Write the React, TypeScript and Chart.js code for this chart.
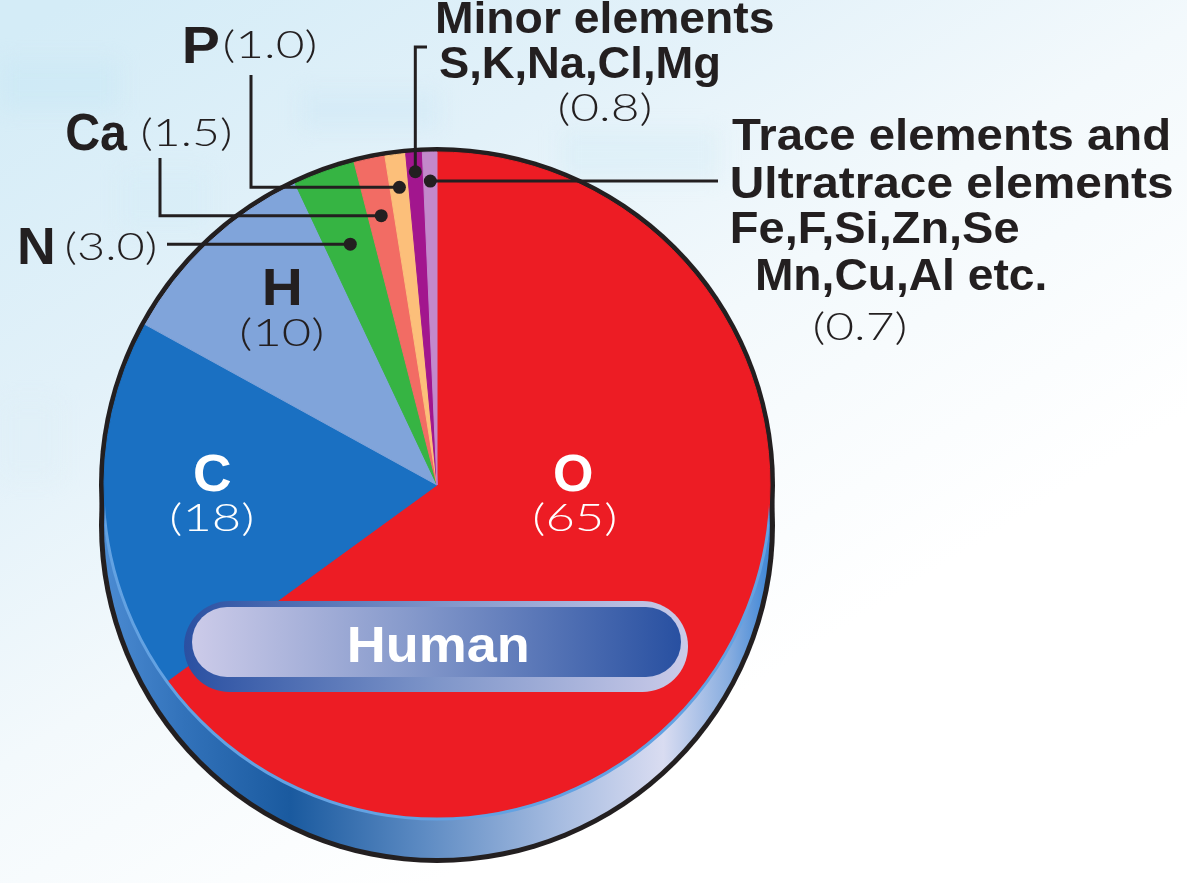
import React, { useEffect, useRef } from "react";
import { Chart, registerables } from "chart.js";

Chart.register(...registerables);

// ---- data ----
const categories = ["O", "C", "H", "N", "Ca", "P", "Minor elements", "Trace elements"];
const values = [65, 18, 10, 3.0, 1.5, 1.0, 0.8, 0.7];
const sliceColors = ["#ed1c24", "#1a70c2", "#80a4da", "#36b443", "#f26c64", "#fcbf7a", "#a2168e", "#c389cb"];
const valueLabels = values.map((v) => (v >= 10 ? `(${v})` : `(${v.toFixed(1)})`));

// ---- layout (text / leader positions) ----
const CX = 437;
const CY = 485;
const R = 333;
const RIM = 40;
const INK = "#231f20";
const BOLD = '"Liberation Sans", Arial, Helvetica, sans-serif';
const LIGHT = 'Lato, "Open Sans", "Noto Sans", sans-serif';

type T = { text: string; x: number; y: number; w: number; size: number; bold: boolean; color: string };

const texts: T[] = [
  { text: categories[5], x: 185, y: 63, w: 33, size: 52, bold: true, color: INK },
  { text: valueLabels[5], x: 225, y: 58, w: 90, size: 38, bold: false, color: INK },
  { text: categories[4], x: 67, y: 150, w: 61, size: 52, bold: true, color: INK },
  { text: valueLabels[4], x: 143, y: 146, w: 87, size: 38, bold: false, color: INK },
  { text: categories[3], x: 20, y: 264, w: 33, size: 52, bold: true, color: INK },
  { text: valueLabels[3], x: 67, y: 260, w: 88, size: 38, bold: false, color: INK },
  { text: "Minor elements", x: 437, y: 33, w: 336, size: 44, bold: true, color: INK },
  { text: "S,K,Na,Cl,Mg", x: 440, y: 78, w: 278, size: 44, bold: true, color: INK },
  { text: valueLabels[6], x: 560, y: 121, w: 90, size: 38, bold: false, color: INK },
  { text: "Trace elements and", x: 732, y: 150, w: 436, size: 44, bold: true, color: INK },
  { text: "Ultratrace elements", x: 732, y: 198, w: 440, size: 44, bold: true, color: INK },
  { text: "Fe,F,Si,Zn,Se", x: 732, y: 243, w: 286, size: 44, bold: true, color: INK },
  { text: "Mn,Cu,Al etc.", x: 757, y: 290, w: 288, size: 44, bold: true, color: INK },
  { text: valueLabels[7], x: 815, y: 340, w: 90, size: 38, bold: false, color: INK },
  { text: categories[2], x: 265, y: 305, w: 35, size: 52, bold: true, color: INK },
  { text: valueLabels[2], x: 242, y: 346, w: 80, size: 38, bold: false, color: INK },
  { text: categories[1], x: 195, y: 491, w: 36, size: 52, bold: true, color: "#ffffff" },
  { text: valueLabels[1], x: 172, y: 531, w: 80, size: 38, bold: false, color: "#ffffff" },
  { text: categories[0], x: 555, y: 491, w: 37, size: 52, bold: true, color: "#ffffff" },
  { text: valueLabels[0], x: 535, y: 531, w: 80, size: 38, bold: false, color: "#ffffff" },
];

// leader: slice index, dot radius, path after the dot
const leaders: { i: number; r: number; path: (d: { x: number; y: number }) => [number, number][] }[] = [
  { i: 3, r: 256, path: (d) => [[167, d.y]] },
  { i: 4, r: 275, path: (d) => [[160, d.y], [160, 158]] },
  { i: 5, r: 300, path: (d) => [[251, d.y], [251, 75]] },
  { i: 6, r: 314, path: (d) => [[d.x, 47], [427, 47]] },
  { i: 7, r: 304, path: (d) => [[718, d.y]] },
];

function drawFit(ctx: CanvasRenderingContext2D, t: T) {
  ctx.save();
  ctx.font = `${t.bold ? "bold" : "300"} ${t.size}px ${t.bold ? BOLD : LIGHT}`;
  ctx.fillStyle = t.color;
  ctx.textBaseline = "alphabetic";
  ctx.textAlign = "left";
  const m = ctx.measureText(t.text);
  const left = m.actualBoundingBoxLeft || 0;
  const inkW = (m.actualBoundingBoxRight || m.width) + left;
  const s = t.w / inkW;
  ctx.translate(t.x, t.y);
  ctx.scale(s, 1);
  ctx.fillText(t.text, left, 0);
  ctx.restore();
}

function roundRect(ctx: CanvasRenderingContext2D, x: number, y: number, w: number, h: number, r: number) {
  ctx.beginPath();
  ctx.moveTo(x + r, y);
  ctx.lineTo(x + w - r, y);
  ctx.arc(x + w - r, y + r, r, -Math.PI / 2, 0);
  ctx.lineTo(x + w, y + h - r);
  ctx.arc(x + w - r, y + h - r, r, 0, Math.PI / 2);
  ctx.lineTo(x + r, y + h);
  ctx.arc(x + r, y + h - r, r, Math.PI / 2, Math.PI);
  ctx.lineTo(x, y + r);
  ctx.arc(x + r, y + r, r, Math.PI, Math.PI * 1.5);
  ctx.closePath();
}

const decor = {
  id: "decor",
  beforeDraw(chart: any) {
    const ctx: CanvasRenderingContext2D = chart.ctx;
    const W = chart.width, H = chart.height;
    ctx.save();
    ctx.fillStyle = "#ffffff";
    ctx.fillRect(0, 0, W, H);
    const g = ctx.createLinearGradient(150, -50, 650, 750);
    g.addColorStop(0, "#d4ecf7");
    g.addColorStop(0.35, "#e2f1f9");
    g.addColorStop(0.65, "#f3f9fc");
    g.addColorStop(1, "#ffffff");
    ctx.fillStyle = g;
    ctx.fillRect(0, 0, W, H);
    // faint blurred blocky texture
    ctx.filter = "blur(10px)";
    const blocks: [number, number, number, number, string][] = [
      [0, 60, 120, 50, "rgba(196,228,243,0.35)"],
      [300, 90, 140, 40, "rgba(200,230,244,0.3)"],
      [120, 170, 90, 60, "rgba(210,234,246,0.35)"],
      [560, 130, 160, 50, "rgba(200,230,244,0.25)"],
      [0, 400, 60, 80, "rgba(220,238,247,0.35)"],
    ];
    for (const [x, y, w, h, c] of blocks) {
      ctx.fillStyle = c;
      ctx.fillRect(x, y, w, h);
    }
    ctx.filter = "none";
    ctx.restore();
  },
  beforeDatasetsDraw(chart: any) {
    const ctx: CanvasRenderingContext2D = chart.ctx;
    const arc = chart.getDatasetMeta(0).data[0];
    const cx = arc.x, cy = arc.y, r = arc.outerRadius;
    ctx.save();
    ctx.fillStyle = INK;
    ctx.beginPath();
    ctx.arc(cx, cy, r + 5, 0, Math.PI * 2);
    ctx.fill();
    ctx.beginPath();
    ctx.arc(cx, cy + RIM, r + 5, 0, Math.PI * 2);
    ctx.fill();
    const g = ctx.createLinearGradient(cx - r, 0, cx + r, 0);
    g.addColorStop(0, "#4b8bd2");
    g.addColorStop(0.12, "#3272ba");
    g.addColorStop(0.28, "#1a5a9f");
    g.addColorStop(0.48, "#5d8bc3");
    g.addColorStop(0.68, "#a5bbe0");
    g.addColorStop(0.84, "#d9dcf1");
    g.addColorStop(0.94, "#86acdf");
    g.addColorStop(1, "#3e86d6");
    ctx.fillStyle = g;
    ctx.beginPath();
    ctx.arc(cx, cy + RIM, r, 0, Math.PI * 2);
    ctx.fill();
    ctx.restore();
  },
  afterDatasetsDraw(chart: any) {
    const ctx: CanvasRenderingContext2D = chart.ctx;
    const meta = chart.getDatasetMeta(0);
    const a0 = meta.data[0];
    const cx = a0.x, cy = a0.y, r = a0.outerRadius;
    ctx.save();
    // highlight along face edge over the rim
    ctx.beginPath();
    ctx.arc(cx, cy + RIM, r - 1, 0, Math.PI * 2);
    ctx.clip();
    ctx.strokeStyle = "#63a2e2";
    ctx.lineWidth = 3;
    ctx.beginPath();
    ctx.arc(cx, cy, r + 1, 0, Math.PI * 2);
    ctx.stroke();
    ctx.restore();

    // pill
    ctx.save();
    const og = ctx.createLinearGradient(184, 0, 688, 0);
    og.addColorStop(0, "#2a50a2");
    og.addColorStop(0.5, "#7e95c9");
    og.addColorStop(1, "#cacbe9");
    ctx.fillStyle = og;
    roundRect(ctx, 184, 601, 504, 91, 45.5);
    ctx.fill();
    const ig = ctx.createLinearGradient(192, 0, 681, 0);
    ig.addColorStop(0, "#cccbe9");
    ig.addColorStop(0.45, "#8599cb");
    ig.addColorStop(1, "#2850a1");
    ctx.fillStyle = ig;
    roundRect(ctx, 192, 607, 489, 70, 35);
    ctx.fill();
    ctx.restore();
    drawFit(ctx, { text: "Human", x: 350, y: 662, w: 177, size: 50, bold: true, color: "#ffffff" });

    // leaders
    ctx.save();
    ctx.strokeStyle = INK;
    ctx.fillStyle = INK;
    ctx.lineWidth = 3;
    ctx.lineJoin = "miter";
    for (const L of leaders) {
      const a = meta.data[L.i];
      const mid = (a.startAngle + a.endAngle) / 2;
      const d = { x: a.x + L.r * Math.cos(mid), y: a.y + L.r * Math.sin(mid) };
      ctx.beginPath();
      ctx.moveTo(d.x, d.y);
      for (const [px, py] of L.path(d)) ctx.lineTo(px, py);
      ctx.stroke();
      ctx.beginPath();
      ctx.arc(d.x, d.y, 6.5, 0, Math.PI * 2);
      ctx.fill();
    }
    ctx.restore();

    for (const t of texts) drawFit(ctx, t);
  },
};

export default function App() {
  const ref = useRef<HTMLCanvasElement>(null);
  useEffect(() => {
    document.body.style.margin = "0";
    const canvas = ref.current!;
    const chart = new Chart(canvas, {
      type: "pie",
      data: {
        labels: categories,
        datasets: [
          {
            data: values,
            backgroundColor: sliceColors,
            borderColor: sliceColors,
            borderWidth: 1,
          },
        ],
      },
      options: {
        responsive: false,
        animation: false,
        radius: R,
        layout: { padding: { left: CX - 335, right: 1187 - (CX + 335), top: CY - 335, bottom: 883 - (CY + 335) } },
        plugins: { legend: { display: false }, tooltip: { enabled: false } },
        events: [],
      } as any,
      plugins: [decor],
    });
    return () => chart.destroy();
  }, []);
  return <canvas ref={ref} width={1187} height={883} style={{ display: "block" }} />;
}
